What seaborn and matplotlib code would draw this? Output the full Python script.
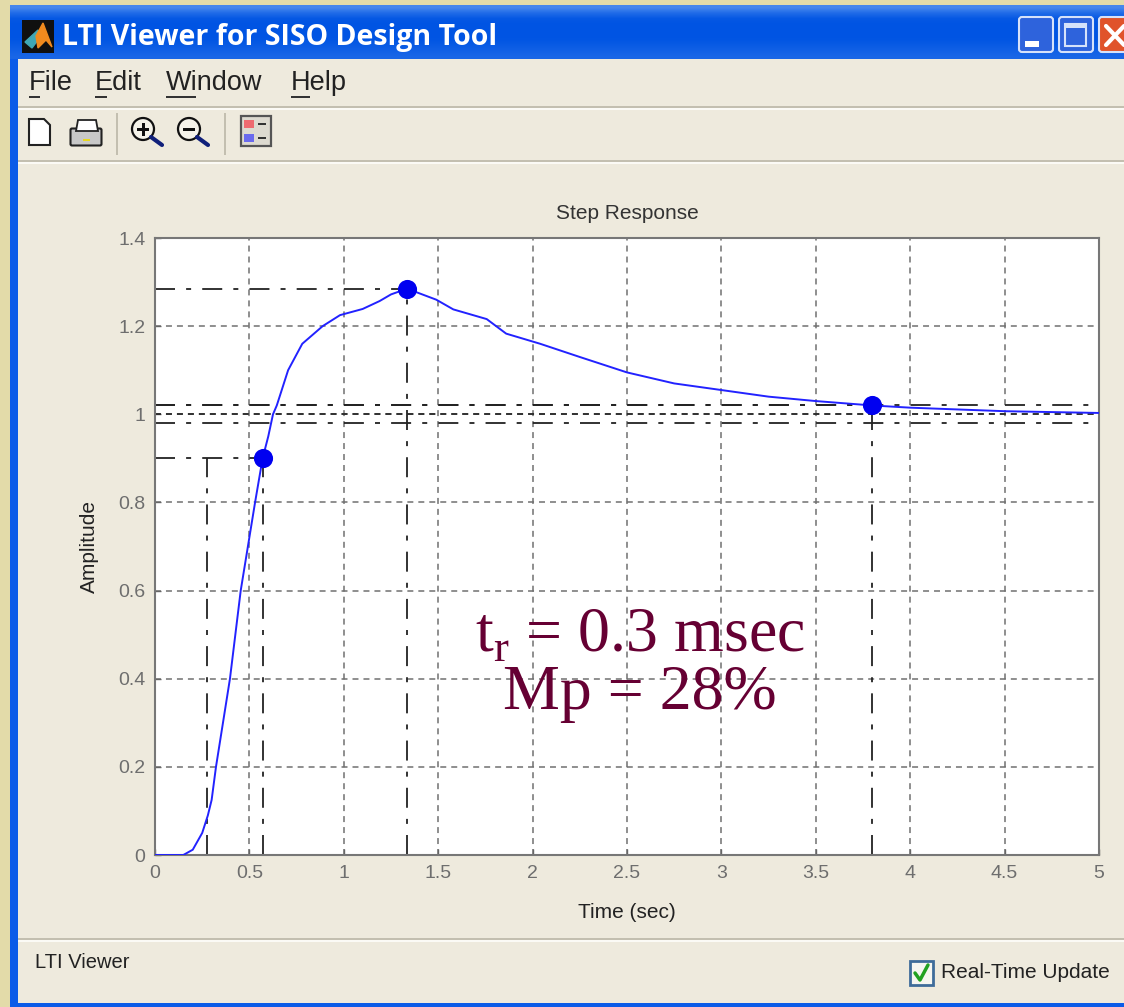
import matplotlib
matplotlib.use("Agg")
import matplotlib.pyplot as plt
import numpy as np
import pandas as pd
import seaborn as sns
from matplotlib.patches import Circle, FancyBboxPatch, Rectangle

# step response
tempo = [0, 0.15, 0.2, 0.25, 0.28, 0.3, 0.323, 0.36, 0.397, 0.454, 0.53, 0.57, 0.6, 0.625,
         0.645, 0.705, 0.78, 0.888, 0.98, 1.1, 1.19, 1.25, 1.335, 1.49, 1.58, 1.757,
         1.86, 2.04, 2.25, 2.5, 2.75, 3, 3.25, 3.5, 3.8, 4, 4.5, 5]
amplitude = [0, 0, 0.012, 0.05, 0.09, 0.125, 0.2, 0.3, 0.4, 0.6, 0.8, 0.9, 0.95, 1.0,
             1.02, 1.1, 1.16, 1.2, 1.225, 1.239, 1.257, 1.272, 1.285, 1.26, 1.238, 1.216,
             1.183, 1.16, 1.13, 1.095, 1.07, 1.055, 1.04, 1.03, 1.02, 1.015, 1.007, 1.003]

marcas_t = [0.57, 1.335, 3.8]
marcas_y = [0.9, 1.285, 1.02]
subida_t = 0.275
subida_y = 0.9
faixa_y = [1.02, 0.98]
final_y = 1.0

x_ticks = [0, 0.5, 1, 1.5, 2, 2.5, 3, 3.5, 4, 4.5, 5]
x_labels = ["0", "0.5", "1", "1.5", "2", "2.5", "3", "3.5", "4", "4.5", "5"]
y_ticks = [0, 0.2, 0.4, 0.6, 0.8, 1, 1.2, 1.4]
y_labels = ["0", "0.2", "0.4", "0.6", "0.8", "1", "1.2", "1.4"]

menus = ["File", "Edit", "Window", "Help"]
menus_x = [29, 95, 166, 291]
sublinhado = [(29, 40), (95, 107), (166, 196), (291, 310)]

LARGURA, ALTURA = 1124, 1007
BEGE = "#EEEADD"
AZUL = "#0A5BE8"

sns.set_style("white")
plt.rcParams["font.family"] = ["Liberation Sans", "DejaVu Sans"]
plt.rcParams["mathtext.fontset"] = "custom"
plt.rcParams["mathtext.rm"] = "Liberation Serif"
plt.rcParams["lines.scale_dashes"] = False

fig = plt.figure(figsize=(LARGURA / 100, ALTURA / 100), dpi=100, facecolor="#E3DBA9")

# window chrome, in pixel coordinates
janela = fig.add_axes([0, 0, 1, 1], zorder=0)
janela.set_xlim(0, LARGURA)
janela.set_ylim(ALTURA, 0)
janela.axis("off")


def caixa(x0, y0, x1, y1, cor, **kw):
    janela.add_patch(Rectangle((x0, y0), x1 - x0, y1 - y0, facecolor=cor, edgecolor="none", **kw))


caixa(10, 5, LARGURA, ALTURA, AZUL)
gradiente = np.array([0.55, 0.25, 0.05, 0.0, 0.0, 0.0, 0.02, 0.08, 0.14, 0.2])[:, None]
janela.imshow(gradiente, cmap=sns.blend_palette(["#0054E3", "#7FB0F5"], as_cmap=True), vmin=0, vmax=1,
              extent=(10, LARGURA, 59, 5), aspect="auto", interpolation="bilinear", zorder=1)
janela.set_xlim(0, LARGURA)
janela.set_ylim(ALTURA, 0)
caixa(18, 59, LARGURA, 1003, BEGE, zorder=1)
caixa(0, 0, 10, ALTURA, "#E3DBA9", zorder=2)
caixa(10, 0, LARGURA, 5, "#E3DBA9", zorder=2)

for y in (106, 160, 938):
    caixa(18, y, LARGURA, y + 2, "#C3BFB0", zorder=2)
    caixa(18, y + 2, LARGURA, y + 4, "#FBFAF5", zorder=2)

# title bar
caixa(22, 20, 54, 53, "#101010", zorder=2)
janela.fill([25, 38, 41, 32], [42, 30, 36, 48], color="#3FA7B5", zorder=3)
janela.fill([36, 43, 52, 46, 38], [36, 23, 47, 40, 48], color="#F08A1E", zorder=3)
janela.text(62, 37, "LTI Viewer for SISO Design Tool", color="white", fontsize=20.5, weight="bold",
            family="Open Sans", va="center", ha="left", zorder=3)

for x0, x1, cor in ((1019, 1053, "#2E63DC"), (1059, 1093, "#2E63DC"), (1099, 1135, "#E0532B")):
    janela.add_patch(FancyBboxPatch((x0 + 3, 20), x1 - x0 - 6, 29, boxstyle="round,pad=3",
                                    facecolor=cor, edgecolor="#D6E2FA", linewidth=1.5, zorder=3))
caixa(1025, 41, 1039, 47, "white", zorder=4)
janela.add_patch(Rectangle((1065, 24), 21, 22, facecolor="none", edgecolor="#D6E2FA", linewidth=1.5, zorder=4))
caixa(1065, 24, 1086, 28, "#D6E2FA", zorder=4)
janela.plot([1106, 1124], [26, 45], color="white", linewidth=3, zorder=4)
janela.plot([1106, 1124], [45, 26], color="white", linewidth=3, zorder=4)

# menu bar
for nome, x, (u0, u1) in zip(menus, menus_x, sublinhado):
    janela.text(x, 83, nome, color="#222222", fontsize=19.5, va="center", ha="left", zorder=3)
    caixa(u0, 96, u1, 98, "#333333", zorder=3)

# toolbar
janela.fill([29, 44, 50, 50, 29], [119, 119, 125, 145, 145], facecolor="white", edgecolor="#222222", linewidth=1.5, zorder=3)
janela.add_patch(FancyBboxPatch((72, 130), 28, 14, boxstyle="round,pad=1.5", facecolor="#C8C8C8", edgecolor="#222222", linewidth=1.5, zorder=3))
janela.fill([78, 96, 98, 76], [120, 120, 131, 131], facecolor="white", edgecolor="#222222", linewidth=1.3, zorder=3)
caixa(83, 139, 90, 141, "#E8D820", zorder=4)
for x in (117, 225):
    caixa(x - 1, 113, x + 1, 155, "#C3BFB0", zorder=3)
for cx, sinal in ((143, True), (189, False)):
    janela.add_patch(Circle((cx, 129), 11, facecolor="#F5F3EA", edgecolor="#111111", linewidth=1.6, zorder=3))
    janela.plot([cx + 8, cx + 19], [137, 155 - 10], color="#10207A", linewidth=3, zorder=3)
    caixa(cx - 6, 128, cx + 6, 131, "#111111", zorder=4)
    if sinal:
        caixa(cx - 1.5, 123, cx + 1.5, 136, "#111111", zorder=4)
janela.add_patch(Rectangle((241, 116), 30, 30, facecolor="#DDDAD0", edgecolor="#555555", linewidth=1.6, zorder=3))
caixa(244, 130 - 10, 254, 128, "#EE6A70", zorder=4)
caixa(244, 134, 254, 142, "#6A6AEE", zorder=4)
caixa(258, 123, 266, 125, "#333333", zorder=4)
caixa(258, 137, 266, 139, "#333333", zorder=4)

# status bar
janela.text(35, 962, "LTI Viewer", color="#222222", fontsize=14.5, va="center", ha="left", zorder=3)
janela.add_patch(Rectangle((910, 961), 23, 24, facecolor="#F6F6F0", edgecolor="#3E6C9A", linewidth=2, zorder=3))
janela.plot([915, 920, 928], [973, 980, 965], color="#21A121", linewidth=2.5, zorder=4)
janela.text(941, 972, "Real-Time Update", color="#222222", fontsize=15, va="center", ha="left", zorder=3)

# step response axes
ax = fig.add_axes([155 / LARGURA, 1 - 855 / ALTURA, (1099 - 155) / LARGURA, (855 - 238) / ALTURA], zorder=2)
ax.set_facecolor("white")

tracejado = (0, (14.4, 8, 3.6, 8))
grade = (0, (4.3, 3.6))
cor_traco = "#222222"

ax.set_xticks(x_ticks)
ax.set_xticklabels(x_labels)
ax.set_yticks(y_ticks)
ax.set_yticklabels(y_labels)
ax.grid(True, linestyle=grade, color="#707070", linewidth=1.1)
ax.set_axisbelow(True)

for t, y in zip(marcas_t, marcas_y):
    ax.plot([0, t], [y, y], color=cor_traco, linestyle=tracejado, linewidth=1.3, zorder=2)
    ax.plot([t, t], [0, y], color=cor_traco, linestyle=tracejado, linewidth=1.3, zorder=2)
ax.plot([subida_t, subida_t], [0, subida_y], color=cor_traco, linestyle=tracejado, linewidth=1.3, zorder=2)
for y in faixa_y:
    ax.axhline(y, color=cor_traco, linestyle=tracejado, linewidth=1.3, zorder=2)
ax.axhline(final_y, color=cor_traco, linestyle=(0, (4.3, 3.6)), linewidth=1.2, zorder=2)

dados = pd.DataFrame({"t": tempo, "y": amplitude})
sns.lineplot(data=dados, x="t", y="y", color="#2222FF", linewidth=1.4, ax=ax, zorder=3, estimator=None, sort=False)
sns.scatterplot(x=marcas_t, y=marcas_y, color="#0000F0", s=190, marker="o", linewidth=0, ax=ax, zorder=4)

ax.set_xlim(0, 5)
ax.set_ylim(0, 1.4)
ax.tick_params(axis="both", direction="in", length=4, width=1, color="#666666", labelcolor="#6E6E6E", labelsize=14, pad=7,
               bottom=True, left=True)
for lado in ax.spines.values():
    lado.set_color("#777777")
    lado.set_linewidth(1.5)

ax.set_title("Step Response", fontsize=15, color="#333333", pad=14)
ax.set_xlabel("Time (sec)", fontsize=15, color="#222222", labelpad=15)
ax.set_ylabel("Amplitude", fontsize=15, color="#222222", labelpad=14)

ax.text(2.57, 0.495, r"t$_{\mathrm{r}}$ = 0.3 msec", family="Liberation Serif", fontsize=46, color="#660033",
        ha="center", va="center", zorder=5)
ax.text(2.57, 0.365, "Mp = 28%", family="Liberation Serif", fontsize=46, color="#660033",
        ha="center", va="center", zorder=5)

fig.savefig("out.png", dpi=100, facecolor=fig.get_facecolor())
